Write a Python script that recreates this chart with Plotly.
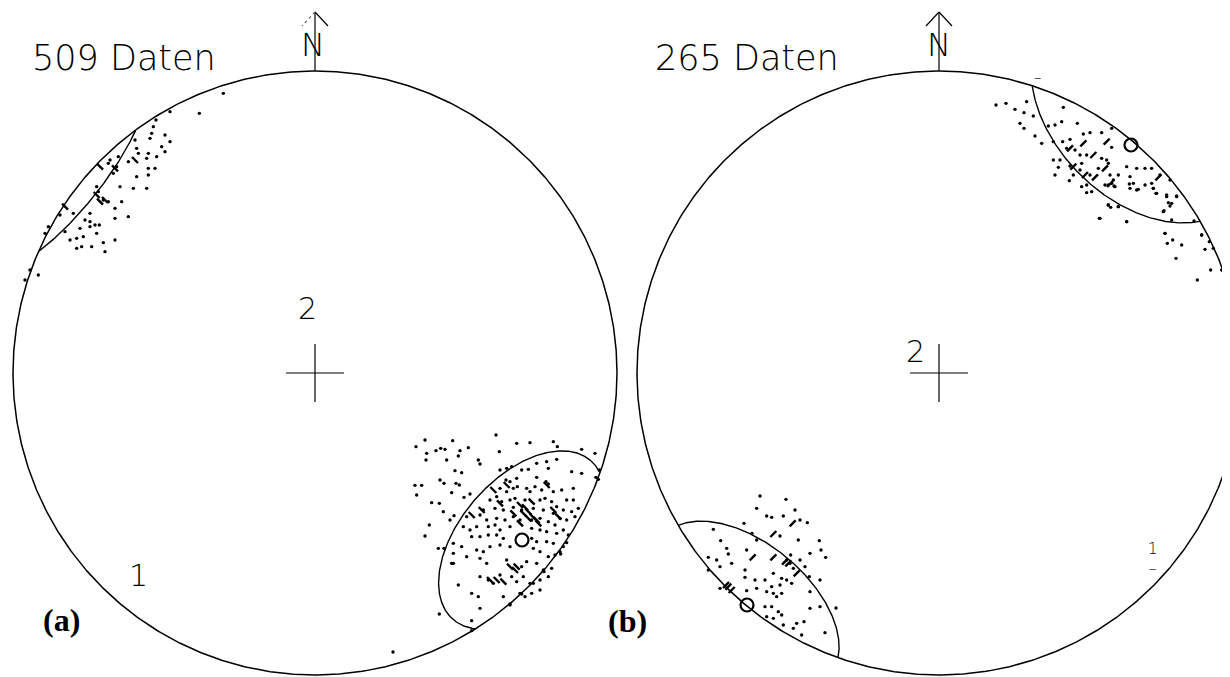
import numpy as np
import plotly.graph_objects as go

# ---------------- figure geometry (reference pixels) ----------------
W, H = 1230, 677
PAGE = 8              # page margin of the html body (figure is drawn from page pixel 8,8)
R_PX = 302            # radius of the primitive circle
CY_PX = 373           # centre row of both nets
CX_A, CX_B = 315, 939 # centre columns of nets (a) and (b)
SPLIT = 626

# ---------------- data: poles ----------------
# each group: crop origin (px), zoom factor, list of (x, y) read inside that crop
A_SE_ORIGIN, A_SE_ZOOM = (400, 420), 3
A_SE_DOTS = [(48,80),(75,60),(80,100),(108,92),(122,85),(135,88),(158,62),(180,92),(205,83),(288,45),(298,95),
    (350,70),(390,68),(460,65),(472,80),(545,88),(585,100),(78,120),(140,120),(175,108),(235,120),(240,132),
    (165,152),(185,158),(120,180),(132,190),(45,196),(65,196),(50,225),(168,190),(178,195),(155,218),(192,232),
    (210,222),(95,248),(118,250),(130,275),(150,300),(162,287),(88,315),(75,348),(115,385),(132,385),(118,582),
    (215,602),(588,172),(598,150),(160,400),(155,430),
    (300,150),(320,145),(335,140),(365,150),(385,148),(410,130),(440,125),(445,145),(470,118),(515,155),(545,160),
    (318,180),(330,185),(350,175),(410,172),(438,185),(445,192),(520,205),(485,210),(460,215),(500,240),(520,240),
    (535,265),(300,205),(320,215),(340,205),(352,200),(380,205),(390,215),(405,200),(425,210),
    (270,240),(290,230),(305,245),(330,240),(345,235),(375,240),(420,240),(435,235),(455,245),(470,260),
    (490,270),(515,275),(250,270),(285,265),(310,270),(340,262),(365,270),(400,265),(430,270),(460,280),(480,295),
    (500,300),(525,290),(200,290),(240,285),(260,300),(290,295),(315,300),(340,290),(360,300),(395,300),
    (420,295),(445,305),(465,315),(490,330),(505,345),(190,320),(210,330),(230,320),(265,320),(285,315),(300,330),
    (330,320),(395,325),(420,330),(440,335),(470,340),(215,350),(240,350),(265,345),(290,345),(310,355),(395,355),
    (410,365),(440,365),(460,370),(490,380),(480,395),(160,370),(185,380),(230,390),(250,395),(270,380),(300,375),
    (330,380),(400,385),(420,395),(445,410),(465,405),(160,430),(200,410),(240,415),(260,430),(320,420),(365,440),
    (380,425),(410,430),(430,450),(455,445),(240,470),(265,480),(280,490),(300,465),(335,470),(350,485),(370,470),
    (390,490),(420,480),(445,470),(175,495),(235,530),(240,565),(310,530),(330,555),(360,520),(375,530),(395,520),
    (420,510),(215,520),(595,178),(500,368),(482,402),(432,455),(400,490),(365,522),(330,552),(215,632)]
A_SE_DASHES = [(360,255),(375,262),(385,275),(398,290),(410,300),(370,280),(385,295),(340,280),(460,270),(475,290),
    (320,195),(280,210),(245,270),(330,440),(345,450),(290,480),(310,485),(270,480),(300,250),(440,195),(215,285),
    (360,310),(350,440),(415,310),(395,245)]

A_NW_ORIGIN, A_NW_ZOOM = (0, 60), 3
A_NW_DOTS = [(670,100),(598,160),(510,155),(468,180),(460,200),(455,220),(450,235),(495,225),(510,245),(485,260),
    (495,275),(470,290),(440,295),(445,280),(410,265),(415,280),(410,350),(445,325),(465,325),(445,345),
    (440,385),(400,385),(385,305),(355,290),(330,300),(325,310),(350,320),(340,340),(360,380),(290,380),(295,395),
    (310,420),(325,425),(345,445),(365,425),(385,470),(345,475),(270,460),(255,480),(270,485),(285,495),(298,495),
    (270,500),(290,520),(240,505),(250,530),(230,535),(210,540),(195,515),(220,460),(180,465),(345,540),
    (310,548),(315,575),(275,560),(245,560),(230,565),(115,645),(90,630),(75,660),(145,500),(135,520),(405,240)]
A_NW_DASHES = [(300,320),(345,325),(405,300),(300,425),(315,420),(195,440),(290,405)]

B_NE_ORIGIN, B_NE_ZOOM = (990, 60), 3
B_NE_DOTS = [(18,135),(48,130),(75,148),(102,158),(110,125),(130,168),(90,190),(102,205),(135,228),(155,250),
    (220,142),(175,198),(195,195),(215,185),(262,190),(190,245),(218,245),(240,238),(280,222),(300,218),(335,218),
    (365,205),(365,262),(230,265),(255,270),(270,285),(290,285),(335,295),(350,300),(190,300),(210,300),
    (205,322),(240,318),(275,310),(195,345),(238,362),(250,345),(270,330),(300,345),(325,325),(355,310),
    (360,345),(370,360),(385,345),(410,320),(440,325),(465,325),(485,325),(420,350),(430,370),(465,375),(490,385),
    (500,400),(275,380),(290,375),(305,395),(345,375),(355,375),(375,380),(420,385),(440,390),(510,345),(540,360),
    (530,405),(545,430),(520,455),(545,480),(560,410),(355,435),(385,440),(410,485),(330,475),(612,483),(525,520),
    (635,525),(290,398)]
B_NE_DASHES = [(280,250),(310,285),(240,265),(345,325),(505,352),(350,245),(285,345),(315,352),(360,372),(250,320)]

B_E_ORIGIN, B_E_ZOOM = (1090, 180), 3
B_E_DOTS = [(65,10),(72,18),(118,12),(145,28),(185,10),(190,25),(198,40),(230,50),(235,68),(240,78),(260,48),
    (222,92),(55,75),(62,82),(85,80),(28,115),(110,125),(225,160),(232,190),(248,180),(275,195),(258,235),
    (335,165),(345,208),(358,185),(362,270),(322,300),(395,270),(415,350),(370,205)]

B_SW_ORIGIN, B_SW_ZOOM = (600, 460), 3
B_SW_DOTS = [(480,108),(558,118),(470,145),(585,150),(500,168),(515,172),(550,168),(600,180),(622,188),
    (432,190),(456,220),(540,228),(470,240),(595,240),(658,242),(663,270),(677,292),(340,208),(362,242),(380,265),
    (385,282),(440,270),(325,292),(350,300),(360,320),(395,310),(435,330),(435,352),(465,360),(495,360),
    (520,340),(545,355),(560,360),(575,370),(540,375),(515,380),(500,395),(520,400),(530,410),(545,400),(470,385),
    (440,392),(495,440),(515,440),(535,455),(545,465),(500,470),(520,475),(550,495),(580,505),(590,490),(605,525),
    (612,485),(630,445),(660,440),(675,518),(708,444),(628,350),(630,395),(660,360),(572,285),(600,300),(615,320),
    (580,325),(630,280),(560,300),(570,310),(325,330),(360,385)]
B_SW_DASHES = [(555,305),(565,310),(590,340),(520,292),(458,292),(378,375),(385,380),(395,390),(578,190),(520,222)]

STRAY_A = [(393,652)]
STRAY_B = []

# mean-direction symbols (reference px)
MEAN_A = [(522,540)]
MEAN_B = [(1131,145),(747,605)]

# confidence ellipses in net coordinates: centre E, centre N, semi-major, semi-minor, rotation (deg)
ELL_A = [(0.685,-0.553,0.348,0.205,49.0), (-0.833,0.666,0.411,0.129,51.3)]
ELL_B = [(0.672,0.864,0.430,0.291,-45.0), (-0.636,-0.768,0.358,0.205,-39.6)]


def to_net(origin, zoom, pts, cx):
    ox, oy = origin
    e = [((ox + zx / zoom) - cx) / R_PX for zx, zy in pts]
    n = [(CY_PX - (oy + zy / zoom)) / R_PX for zx, zy in pts]
    return e, n


def ellipse(ce, cn, a, b, rot):
    t = np.linspace(0, 2 * np.pi, 721)
    r = np.radians(rot)
    x = ce + a * np.cos(t) * np.cos(r) - b * np.sin(t) * np.sin(r)
    y = cn + a * np.cos(t) * np.sin(r) + b * np.sin(t) * np.cos(r)
    out = np.hypot(x, y) > 1.0
    xs = [None if o else float(v) for v, o in zip(x, out)]
    ys = [None if o else float(v) for v, o in zip(y, out)]
    return xs, ys


fig = go.Figure()
LINE = dict(color="black", width=1.5)
th = np.linspace(0, 2 * np.pi, 721)


def net(xa, ya, cx, groups, dashes, dash_sym, stray, means, ells, left_dotted):
    fig.add_trace(go.Scatter(x=np.cos(th), y=np.sin(th), mode="lines", line=LINE,
                             xaxis=xa, yaxis=ya, hoverinfo="skip"))
    c = 29 / R_PX
    fig.add_trace(go.Scatter(x=[-c, c, None, 0, 0], y=[0, 0, None, -c, c], mode="lines",
                             line=dict(color="black", width=1.2), xaxis=xa, yaxis=ya, hoverinfo="skip"))
    top = (CY_PX - 12) / R_PX
    hx, hy = 13 / R_PX, (CY_PX - 26) / R_PX
    fig.add_trace(go.Scatter(x=[0, 0, None, 0, hx], y=[1, top, None, top, hy], mode="lines",
                             line=dict(color="black", width=1.2), xaxis=xa, yaxis=ya, hoverinfo="skip"))
    fig.add_trace(go.Scatter(x=[0, -hx], y=[top, hy], mode="lines",
                             line=dict(color="#666" if left_dotted else "black", width=1.2,
                                       dash="dot" if left_dotted else "solid"),
                             xaxis=xa, yaxis=ya, hoverinfo="skip"))
    for p in ells:
        ex, ey = ellipse(*p)
        fig.add_trace(go.Scatter(x=ex, y=ey, mode="lines", line=dict(color="black", width=1.4),
                                 connectgaps=False, xaxis=xa, yaxis=ya, hoverinfo="skip"))
    for origin, zoom, pts in groups:
        e, n = to_net(origin, zoom, pts, cx)
        fig.add_trace(go.Scatter(x=e, y=n, mode="markers",
                                 marker=dict(color="black", size=3.4, line=dict(width=0)),
                                 xaxis=xa, yaxis=ya, hoverinfo="skip"))
    for origin, zoom, pts in dashes:
        e, n = to_net(origin, zoom, pts, cx)
        fig.add_trace(go.Scatter(x=e, y=n, mode="markers",
                                 marker=dict(symbol=dash_sym, size=6, color="black",
                                             line=dict(color="black", width=2.4)),
                                 xaxis=xa, yaxis=ya, hoverinfo="skip"))
    if stray:
        e, n = to_net((0, 0), 1, stray, cx)
        fig.add_trace(go.Scatter(x=e, y=n, mode="markers", marker=dict(color="black", size=3.4),
                                 xaxis=xa, yaxis=ya, hoverinfo="skip"))
    e, n = to_net((0, 0), 1, means, cx)
    fig.add_trace(go.Scatter(x=e, y=n, mode="markers",
                             marker=dict(symbol="circle-open", size=13, color="black",
                                         line=dict(color="black", width=2.2)),
                             xaxis=xa, yaxis=ya, hoverinfo="skip"))


net("x", "y", CX_A,
    [(A_SE_ORIGIN, A_SE_ZOOM, A_SE_DOTS), (A_NW_ORIGIN, A_NW_ZOOM, A_NW_DOTS)],
    [(A_SE_ORIGIN, A_SE_ZOOM, A_SE_DASHES), (A_NW_ORIGIN, A_NW_ZOOM, A_NW_DASHES)],
    "line-nw", STRAY_A, MEAN_A, ELL_A, True)
net("x2", "y2", CX_B,
    [(B_NE_ORIGIN, B_NE_ZOOM, B_NE_DOTS), (B_E_ORIGIN, B_E_ZOOM, B_E_DOTS), (B_SW_ORIGIN, B_SW_ZOOM, B_SW_DOTS)],
    [(B_NE_ORIGIN, B_NE_ZOOM, B_NE_DASHES), (B_SW_ORIGIN, B_SW_ZOOM, B_SW_DASHES)],
    "line-ne", STRAY_B, MEAN_B, ELL_B, False)

THIN = "DejaVu Sans, Liberation Sans, sans-serif"
SERIF = "Liberation Serif, DejaVu Serif, serif"


def txt(xr, yr, x, y, s, size, family=THIN, anchor="center", bold=False, weight=200):
    f = dict(family=family, size=size, color="black")
    if weight is not None:
        f["weight"] = weight
    fig.add_annotation(xref=xr, yref=yr, x=x, y=y, text=("<b>%s</b>" % s) if bold else s,
                       showarrow=False, xanchor=anchor, yanchor="middle", font=f)


txt("x", "y", -0.945, 1.043, "509 Daten", 35, anchor="left")
txt("x2", "y2", -0.948, 1.043, "265 Daten", 35, anchor="left")
txt("x", "y", -0.005, 1.086, "N", 32)
txt("x2", "y2", 0.0, 1.086, "N", 32)
txt("x", "y", -0.026, 0.212, "2", 30)
txt("x2", "y2", -0.079, 0.070, "2", 30)
txt("x", "y", -0.586, -0.672, "1", 30)
txt("x2", "y2", 0.709, -0.615, "1<br>–", 15)
txt("x2", "y2", 0.328, 0.977, "–", 15)
txt("x", "y", -0.838, -0.818, "(a)", 32, family=SERIF, bold=True, weight=None)
txt("x2", "y2", -1.030, -0.821, "(b)", 32, family=SERIF, bold=True, weight=None)

# the page places the figure at (PAGE, PAGE); ranges map figure pixels to net coordinates
split_fig = SPLIT - PAGE
yr = [(CY_PX - (H + PAGE)) / R_PX, (CY_PX - PAGE) / R_PX]
ax = dict(visible=False, showgrid=False, zeroline=False, fixedrange=True)
fig.update_layout(
    width=W, height=H, margin=dict(l=0, r=0, t=0, b=0),
    paper_bgcolor="white", plot_bgcolor="white", showlegend=False,
    xaxis=dict(domain=[0, split_fig / W],
               range=[(PAGE - CX_A) / R_PX, (split_fig + PAGE - CX_A) / R_PX], **ax),
    yaxis=dict(domain=[0, 1], range=yr, anchor="x", **ax),
    xaxis2=dict(domain=[split_fig / W, 1],
                range=[(split_fig + PAGE - CX_B) / R_PX, (W + PAGE - CX_B) / R_PX], anchor="y2", **ax),
    yaxis2=dict(domain=[0, 1], range=yr, anchor="x2", **ax),
)

fig.write_html("out.html")
